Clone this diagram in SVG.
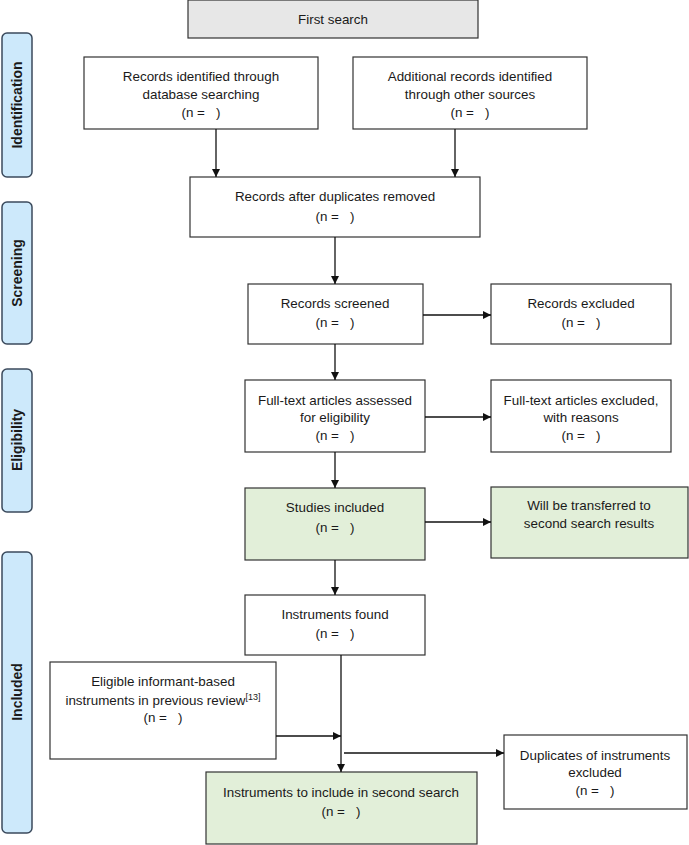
<svg xmlns="http://www.w3.org/2000/svg" width="689" height="845" viewBox="0 0 689 845">
<defs>
<marker id="ah" markerWidth="8" markerHeight="8" refX="8" refY="4" orient="auto" markerUnits="userSpaceOnUse">
<path d="M0,0 L8,4 L0,8 Z" fill="#111"/>
</marker>
<style>
.box{fill:#fff;stroke:#333;stroke-width:1.2}
.grn{fill:#e2efd9;stroke:#333;stroke-width:1.2}
.gry{fill:#e7e7e7;stroke:#333;stroke-width:1.2}
.side{fill:#cde9fb;stroke:#3b4a5c;stroke-width:1.5}
text{font-family:"Liberation Sans",Arial,sans-serif;font-size:13.4px;fill:#1a1a1a;text-anchor:middle}
.st{font-weight:bold;font-size:14px}
.ln{stroke:#111;stroke-width:1.3;fill:none}
</style>
</defs>

<g id="side-identification">
<rect class="side" x="2" y="33" width="30" height="144" rx="5"/>
<text class="st" transform="translate(22,105) rotate(-90)">Identification</text>
</g>
<g id="side-screening">
<rect class="side" x="2" y="202" width="30" height="142" rx="5"/>
<text class="st" transform="translate(22,273) rotate(-90)">Screening</text>
</g>
<g id="side-eligibility">
<rect class="side" x="2" y="369" width="30" height="143" rx="5"/>
<text class="st" transform="translate(22,440) rotate(-90)">Eligibility</text>
</g>
<g id="side-included">
<rect class="side" x="2" y="552" width="30" height="281" rx="5"/>
<text class="st" transform="translate(22,692) rotate(-90)">Included</text>
</g>

<g id="first-search">
<rect class="gry" x="188" y="0" width="290" height="38"/>
<text x="333" y="24">First search</text>
</g>
<g id="records-db">
<rect class="box" x="84" y="57" width="234" height="72"/>
<text x="201" y="81">Records identified through</text>
<text x="201" y="99">database searching</text>
<text x="201" y="117">(n =&#160;&#160;&#160;)</text>
</g>
<g id="records-other">
<rect class="box" x="353" y="57" width="234" height="72"/>
<text x="470" y="81">Additional records identified</text>
<text x="470" y="99">through other sources</text>
<text x="470" y="117">(n =&#160;&#160;&#160;)</text>
</g>
<g id="records-dedup">
<rect class="box" x="190" y="177" width="290" height="60"/>
<text x="335" y="201">Records after duplicates removed</text>
<text x="335" y="221">(n =&#160;&#160;&#160;)</text>
</g>
<g id="records-screened">
<rect class="box" x="248" y="284" width="175" height="60"/>
<text x="335" y="308">Records screened</text>
<text x="335" y="327">(n =&#160;&#160;&#160;)</text>
</g>
<g id="records-excluded">
<rect class="box" x="491" y="284" width="180" height="60"/>
<text x="581" y="308">Records excluded</text>
<text x="581" y="327">(n =&#160;&#160;&#160;)</text>
</g>
<g id="fulltext-assessed">
<rect class="box" x="245" y="380" width="180" height="72"/>
<text x="335" y="405">Full-text articles assessed</text>
<text x="335" y="422">for eligibility</text>
<text x="335" y="440">(n =&#160;&#160;&#160;)</text>
</g>
<g id="fulltext-excluded">
<rect class="box" x="491" y="380" width="180" height="72"/>
<text x="581" y="405">Full-text articles excluded,</text>
<text x="581" y="422">with reasons</text>
<text x="581" y="440">(n =&#160;&#160;&#160;)</text>
</g>
<g id="studies-included">
<rect class="grn" x="245" y="488" width="180" height="72"/>
<text x="335" y="512">Studies included</text>
<text x="335" y="532">(n =&#160;&#160;&#160;)</text>
</g>
<g id="transferred">
<rect class="grn" x="491" y="487" width="197" height="71"/>
<text x="589" y="510">Will be transferred to</text>
<text x="589" y="528">second search results</text>
</g>
<g id="instruments-found">
<rect class="box" x="245" y="595" width="180" height="60"/>
<text x="335" y="619">Instruments found</text>
<text x="335" y="638">(n =&#160;&#160;&#160;)</text>
</g>
<g id="eligible-previous">
<rect class="box" x="50" y="662" width="226" height="97"/>
<text x="163" y="686">Eligible informant-based</text>
<text x="163" y="705">instruments in previous review<tspan font-size="9" dy="-5">[13]</tspan></text>
<text x="163" y="722">(n =&#160;&#160;&#160;)</text>
</g>
<g id="duplicates-excluded">
<rect class="box" x="504" y="735" width="183" height="74"/>
<text x="595" y="760">Duplicates of instruments</text>
<text x="595" y="777">excluded</text>
<text x="595" y="795">(n =&#160;&#160;&#160;)</text>
</g>
<g id="instruments-include">
<rect class="grn" x="206" y="772" width="271" height="72"/>
<text x="341" y="797">Instruments to include in second search</text>
<text x="341" y="816">(n =&#160;&#160;&#160;)</text>
</g>

<g id="connectors">
<line class="ln" x1="216" y1="129" x2="216" y2="177" marker-end="url(#ah)"/>
<line class="ln" x1="455" y1="129" x2="455" y2="177" marker-end="url(#ah)"/>
<line class="ln" x1="335" y1="237" x2="335" y2="284" marker-end="url(#ah)"/>
<line class="ln" x1="423" y1="315" x2="491" y2="315" marker-end="url(#ah)"/>
<line class="ln" x1="335" y1="344" x2="335" y2="380" marker-end="url(#ah)"/>
<line class="ln" x1="425" y1="417" x2="491" y2="417" marker-end="url(#ah)"/>
<line class="ln" x1="335" y1="452" x2="335" y2="488" marker-end="url(#ah)"/>
<line class="ln" x1="425" y1="522" x2="491" y2="522" marker-end="url(#ah)"/>
<line class="ln" x1="335" y1="560" x2="335" y2="595" marker-end="url(#ah)"/>
<line class="ln" x1="341" y1="655" x2="341" y2="772" marker-end="url(#ah)"/>
<line class="ln" x1="276" y1="736" x2="341" y2="736" marker-end="url(#ah)"/>
<line class="ln" x1="344" y1="753" x2="504" y2="753" marker-end="url(#ah)"/>
</g>
</svg>
